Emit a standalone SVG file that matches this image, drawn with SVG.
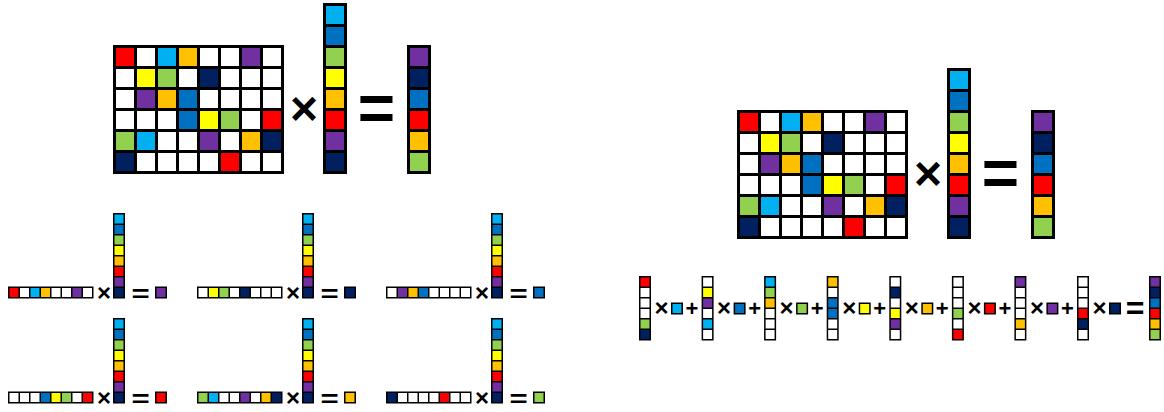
<svg xmlns="http://www.w3.org/2000/svg" xmlns:xlink="http://www.w3.org/1999/xlink" width="1164" height="412" viewBox="0 0 1164 412">
<style>
.k{fill:#000}
.w{fill:#fff}.r{fill:#ff0000}.lb{fill:#00b0f0}.o{fill:#ffc000}.p{fill:#7030a0}.y{fill:#ffff00}.g{fill:#92d050}.n{fill:#002060}.b{fill:#0070c0}
.op{font-family:"Liberation Sans",Arial,sans-serif;font-weight:bold;text-anchor:middle;fill:#000}
.mul{font-size:48px}.eq{font-size:64px}.eqs{font-size:48px}.plus{font-size:44px}
</style>
<defs>
<g id="r0"><rect class="k" width="171" height="24"/><rect class="r" x="3" y="3" width="18" height="18"/><rect class="w" x="24" y="3" width="18" height="18"/><rect class="lb" x="45" y="3" width="18" height="18"/><rect class="o" x="66" y="3" width="18" height="18"/><rect class="w" x="87" y="3" width="18" height="18"/><rect class="w" x="108" y="3" width="18" height="18"/><rect class="p" x="129" y="3" width="18" height="18"/><rect class="w" x="150" y="3" width="18" height="18"/></g>
<g id="r1"><rect class="k" width="171" height="24"/><rect class="w" x="3" y="3" width="18" height="18"/><rect class="y" x="24" y="3" width="18" height="18"/><rect class="g" x="45" y="3" width="18" height="18"/><rect class="w" x="66" y="3" width="18" height="18"/><rect class="n" x="87" y="3" width="18" height="18"/><rect class="w" x="108" y="3" width="18" height="18"/><rect class="w" x="129" y="3" width="18" height="18"/><rect class="w" x="150" y="3" width="18" height="18"/></g>
<g id="r2"><rect class="k" width="171" height="24"/><rect class="w" x="3" y="3" width="18" height="18"/><rect class="p" x="24" y="3" width="18" height="18"/><rect class="o" x="45" y="3" width="18" height="18"/><rect class="b" x="66" y="3" width="18" height="18"/><rect class="w" x="87" y="3" width="18" height="18"/><rect class="w" x="108" y="3" width="18" height="18"/><rect class="w" x="129" y="3" width="18" height="18"/><rect class="w" x="150" y="3" width="18" height="18"/></g>
<g id="r3"><rect class="k" width="171" height="24"/><rect class="w" x="3" y="3" width="18" height="18"/><rect class="w" x="24" y="3" width="18" height="18"/><rect class="w" x="45" y="3" width="18" height="18"/><rect class="b" x="66" y="3" width="18" height="18"/><rect class="y" x="87" y="3" width="18" height="18"/><rect class="g" x="108" y="3" width="18" height="18"/><rect class="w" x="129" y="3" width="18" height="18"/><rect class="r" x="150" y="3" width="18" height="18"/></g>
<g id="r4"><rect class="k" width="171" height="24"/><rect class="g" x="3" y="3" width="18" height="18"/><rect class="lb" x="24" y="3" width="18" height="18"/><rect class="w" x="45" y="3" width="18" height="18"/><rect class="w" x="66" y="3" width="18" height="18"/><rect class="p" x="87" y="3" width="18" height="18"/><rect class="w" x="108" y="3" width="18" height="18"/><rect class="o" x="129" y="3" width="18" height="18"/><rect class="n" x="150" y="3" width="18" height="18"/></g>
<g id="r5"><rect class="k" width="171" height="24"/><rect class="n" x="3" y="3" width="18" height="18"/><rect class="w" x="24" y="3" width="18" height="18"/><rect class="w" x="45" y="3" width="18" height="18"/><rect class="w" x="66" y="3" width="18" height="18"/><rect class="w" x="87" y="3" width="18" height="18"/><rect class="r" x="108" y="3" width="18" height="18"/><rect class="w" x="129" y="3" width="18" height="18"/><rect class="w" x="150" y="3" width="18" height="18"/></g>
<g id="c0"><rect class="k" width="24" height="129"/><rect class="r" x="3" y="3" width="18" height="18"/><rect class="w" x="3" y="24" width="18" height="18"/><rect class="w" x="3" y="45" width="18" height="18"/><rect class="w" x="3" y="66" width="18" height="18"/><rect class="g" x="3" y="87" width="18" height="18"/><rect class="n" x="3" y="108" width="18" height="18"/></g>
<g id="c1"><rect class="k" width="24" height="129"/><rect class="w" x="3" y="3" width="18" height="18"/><rect class="y" x="3" y="24" width="18" height="18"/><rect class="p" x="3" y="45" width="18" height="18"/><rect class="w" x="3" y="66" width="18" height="18"/><rect class="lb" x="3" y="87" width="18" height="18"/><rect class="w" x="3" y="108" width="18" height="18"/></g>
<g id="c2"><rect class="k" width="24" height="129"/><rect class="lb" x="3" y="3" width="18" height="18"/><rect class="g" x="3" y="24" width="18" height="18"/><rect class="o" x="3" y="45" width="18" height="18"/><rect class="w" x="3" y="66" width="18" height="18"/><rect class="w" x="3" y="87" width="18" height="18"/><rect class="w" x="3" y="108" width="18" height="18"/></g>
<g id="c3"><rect class="k" width="24" height="129"/><rect class="o" x="3" y="3" width="18" height="18"/><rect class="w" x="3" y="24" width="18" height="18"/><rect class="b" x="3" y="45" width="18" height="18"/><rect class="b" x="3" y="66" width="18" height="18"/><rect class="w" x="3" y="87" width="18" height="18"/><rect class="w" x="3" y="108" width="18" height="18"/></g>
<g id="c4"><rect class="k" width="24" height="129"/><rect class="w" x="3" y="3" width="18" height="18"/><rect class="n" x="3" y="24" width="18" height="18"/><rect class="w" x="3" y="45" width="18" height="18"/><rect class="y" x="3" y="66" width="18" height="18"/><rect class="p" x="3" y="87" width="18" height="18"/><rect class="w" x="3" y="108" width="18" height="18"/></g>
<g id="c5"><rect class="k" width="24" height="129"/><rect class="w" x="3" y="3" width="18" height="18"/><rect class="w" x="3" y="24" width="18" height="18"/><rect class="w" x="3" y="45" width="18" height="18"/><rect class="g" x="3" y="66" width="18" height="18"/><rect class="w" x="3" y="87" width="18" height="18"/><rect class="r" x="3" y="108" width="18" height="18"/></g>
<g id="c6"><rect class="k" width="24" height="129"/><rect class="p" x="3" y="3" width="18" height="18"/><rect class="w" x="3" y="24" width="18" height="18"/><rect class="w" x="3" y="45" width="18" height="18"/><rect class="w" x="3" y="66" width="18" height="18"/><rect class="o" x="3" y="87" width="18" height="18"/><rect class="w" x="3" y="108" width="18" height="18"/></g>
<g id="c7"><rect class="k" width="24" height="129"/><rect class="w" x="3" y="3" width="18" height="18"/><rect class="w" x="3" y="24" width="18" height="18"/><rect class="w" x="3" y="45" width="18" height="18"/><rect class="r" x="3" y="66" width="18" height="18"/><rect class="n" x="3" y="87" width="18" height="18"/><rect class="w" x="3" y="108" width="18" height="18"/></g>
<g id="vx"><rect class="k" width="24" height="171"/><rect class="lb" x="3" y="3" width="18" height="18"/><rect class="b" x="3" y="24" width="18" height="18"/><rect class="g" x="3" y="45" width="18" height="18"/><rect class="y" x="3" y="66" width="18" height="18"/><rect class="o" x="3" y="87" width="18" height="18"/><rect class="r" x="3" y="108" width="18" height="18"/><rect class="p" x="3" y="129" width="18" height="18"/><rect class="n" x="3" y="150" width="18" height="18"/></g>
<g id="vy"><rect class="k" width="24" height="129"/><rect class="p" x="3" y="3" width="18" height="18"/><rect class="n" x="3" y="24" width="18" height="18"/><rect class="b" x="3" y="45" width="18" height="18"/><rect class="r" x="3" y="66" width="18" height="18"/><rect class="o" x="3" y="87" width="18" height="18"/><rect class="g" x="3" y="108" width="18" height="18"/></g>
<g id="mat"><use xlink:href="#r0" y="0"/><use xlink:href="#r1" y="21"/><use xlink:href="#r2" y="42"/><use xlink:href="#r3" y="63"/><use xlink:href="#r4" y="84"/><use xlink:href="#r5" y="105"/></g>
<g id="s-lb"><rect class="k" width="24" height="24"/><rect class="lb" x="3" y="3" width="18" height="18"/></g>
<g id="s-b"><rect class="k" width="24" height="24"/><rect class="b" x="3" y="3" width="18" height="18"/></g>
<g id="s-g"><rect class="k" width="24" height="24"/><rect class="g" x="3" y="3" width="18" height="18"/></g>
<g id="s-y"><rect class="k" width="24" height="24"/><rect class="y" x="3" y="3" width="18" height="18"/></g>
<g id="s-o"><rect class="k" width="24" height="24"/><rect class="o" x="3" y="3" width="18" height="18"/></g>
<g id="s-r"><rect class="k" width="24" height="24"/><rect class="r" x="3" y="3" width="18" height="18"/></g>
<g id="s-p"><rect class="k" width="24" height="24"/><rect class="p" x="3" y="3" width="18" height="18"/></g>
<g id="s-n"><rect class="k" width="24" height="24"/><rect class="n" x="3" y="3" width="18" height="18"/></g>
</defs>
<rect width="1164" height="412" fill="#fff"/>

<g id="eq-left">
 <g id="left-matrix"><use xlink:href="#mat" x="113" y="45"/></g>
 <g id="left-vector"><use xlink:href="#vx" x="323" y="3"/></g>
 <text class="op mul" x="304" y="124.6">×</text>
 <text class="op eq" x="376.5" y="130">=</text>
 <g id="left-result"><use xlink:href="#vy" x="407" y="45"/></g>
</g>

<g id="eq-right" transform="translate(624,65)">
 <g id="right-matrix"><use xlink:href="#mat" x="113" y="45"/></g>
 <g id="right-vector"><use xlink:href="#vx" x="323" y="3"/></g>
 <text class="op mul" x="304" y="124.6">×</text>
 <text class="op eq" x="376.5" y="130">=</text>
 <g id="right-result"><use xlink:href="#vy" x="407" y="45"/></g>
</g>

<g id="row-eq-0" transform="translate(8,213) scale(0.5)"><use xlink:href="#r0" y="147"/><text class="op mul" x="192" y="176.6">×</text><use xlink:href="#vx" x="210"/><text class="op eqs" transform="translate(265,177.1) scale(1.3,1)">=</text><use xlink:href="#s-p" x="294" y="147"/></g>
<g id="row-eq-1" transform="translate(197,213) scale(0.5)"><use xlink:href="#r1" y="147"/><text class="op mul" x="192" y="176.6">×</text><use xlink:href="#vx" x="210"/><text class="op eqs" transform="translate(265,177.1) scale(1.3,1)">=</text><use xlink:href="#s-n" x="294" y="147"/></g>
<g id="row-eq-2" transform="translate(386,213) scale(0.5)"><use xlink:href="#r2" y="147"/><text class="op mul" x="192" y="176.6">×</text><use xlink:href="#vx" x="210"/><text class="op eqs" transform="translate(265,177.1) scale(1.3,1)">=</text><use xlink:href="#s-b" x="294" y="147"/></g>
<g id="row-eq-3" transform="translate(8,318) scale(0.5)"><use xlink:href="#r3" y="147"/><text class="op mul" x="192" y="176.6">×</text><use xlink:href="#vx" x="210"/><text class="op eqs" transform="translate(265,177.1) scale(1.3,1)">=</text><use xlink:href="#s-r" x="294" y="147"/></g>
<g id="row-eq-4" transform="translate(197,318) scale(0.5)"><use xlink:href="#r4" y="147"/><text class="op mul" x="192" y="176.6">×</text><use xlink:href="#vx" x="210"/><text class="op eqs" transform="translate(265,177.1) scale(1.3,1)">=</text><use xlink:href="#s-o" x="294" y="147"/></g>
<g id="row-eq-5" transform="translate(386,318) scale(0.5)"><use xlink:href="#r5" y="147"/><text class="op mul" x="192" y="176.6">×</text><use xlink:href="#vx" x="210"/><text class="op eqs" transform="translate(265,177.1) scale(1.3,1)">=</text><use xlink:href="#s-g" x="294" y="147"/></g>

<g id="col-sum">
 <g id="term-0" transform="translate(639,276) scale(0.5)"><use xlink:href="#c0"/><text class="op mul" x="45" y="80.6">×</text><use xlink:href="#s-lb" x="64" y="53"/><text class="op plus" x="106" y="79">+</text></g>
 <g id="term-1" transform="translate(701.6,276) scale(0.5)"><use xlink:href="#c1"/><text class="op mul" x="45" y="80.6">×</text><use xlink:href="#s-b" x="64" y="53"/><text class="op plus" x="106" y="79">+</text></g>
 <g id="term-2" transform="translate(764.1,276) scale(0.5)"><use xlink:href="#c2"/><text class="op mul" x="45" y="80.6">×</text><use xlink:href="#s-g" x="64" y="53"/><text class="op plus" x="106" y="79">+</text></g>
 <g id="term-3" transform="translate(826.7,276) scale(0.5)"><use xlink:href="#c3"/><text class="op mul" x="45" y="80.6">×</text><use xlink:href="#s-y" x="64" y="53"/><text class="op plus" x="106" y="79">+</text></g>
 <g id="term-4" transform="translate(889.3,276) scale(0.5)"><use xlink:href="#c4"/><text class="op mul" x="45" y="80.6">×</text><use xlink:href="#s-o" x="64" y="53"/><text class="op plus" x="106" y="79">+</text></g>
 <g id="term-5" transform="translate(951.9,276) scale(0.5)"><use xlink:href="#c5"/><text class="op mul" x="45" y="80.6">×</text><use xlink:href="#s-r" x="64" y="53"/><text class="op plus" x="106" y="79">+</text></g>
 <g id="term-6" transform="translate(1014.4,276) scale(0.5)"><use xlink:href="#c6"/><text class="op mul" x="45" y="80.6">×</text><use xlink:href="#s-p" x="64" y="53"/><text class="op plus" x="106" y="79">+</text></g>
 <g id="term-7" transform="translate(1077,276) scale(0.5)"><use xlink:href="#c7"/><text class="op mul" x="45" y="80.6">×</text><use xlink:href="#s-n" x="64" y="53"/><text class="op eq" x="116" y="86">=</text><use xlink:href="#vy" x="144" y="0"/></g>
</g>
</svg>
